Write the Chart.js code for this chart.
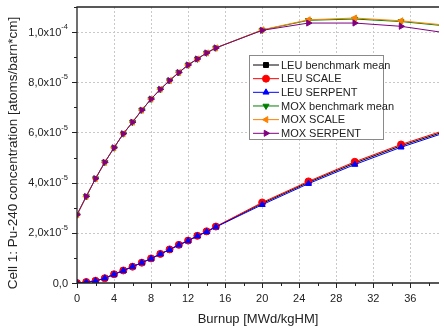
<!DOCTYPE html>
<html>
<head>
<meta charset="utf-8">
<script src="https://cdn.jsdelivr.net/npm/chart.js@4"></script>
<style>
  html, body { margin: 0; padding: 0; background: #fff; }
  #wrap { width: 444px; height: 333px; }
</style>
</head>
<body>
<div id="wrap"><canvas id="puChart" width="444" height="333"></canvas></div>
<script>
// burnup steps [MWd/kgHM]
const burnup = [0, 1, 2, 3, 4, 5, 6, 7, 8, 9, 10, 11, 12, 13, 14, 15, 20, 25, 30, 35, 40];

// Pu-240 concentration, units of 1e-5 atoms/barn*cm
const leuBench   = [0, 0.03, 0.08, 0.19, 0.35, 0.50, 0.65, 0.81, 0.97, 1.16, 1.33, 1.52, 1.69, 1.88, 2.05, 2.24, 3.17, 4.01, 4.78, 5.47, 6.07];
const leuScale   = [0, 0.04, 0.09, 0.19, 0.35, 0.50, 0.65, 0.81, 0.98, 1.16, 1.34, 1.52, 1.69, 1.88, 2.06, 2.25, 3.21, 4.05, 4.83, 5.52, 6.12];
const leuSerpent = [0, 0.03, 0.08, 0.19, 0.34, 0.49, 0.65, 0.81, 0.97, 1.15, 1.33, 1.51, 1.68, 1.87, 2.04, 2.23, 3.12, 3.96, 4.72, 5.41, 6.02];
const moxBench   = [2.72, 3.45, 4.16, 4.81, 5.39, 5.95, 6.41, 6.89, 7.33, 7.72, 8.07, 8.39, 8.69, 8.93, 9.17, 9.37, 10.08, 10.47, 10.52, 10.42, 10.24];
const moxScale   = [2.72, 3.45, 4.16, 4.81, 5.39, 5.95, 6.41, 6.89, 7.33, 7.72, 8.07, 8.39, 8.69, 8.93, 9.17, 9.37, 10.09, 10.49, 10.56, 10.45, 10.27];
const moxSerpent = [2.72, 3.45, 4.16, 4.81, 5.39, 5.95, 6.41, 6.89, 7.33, 7.72, 8.07, 8.39, 8.69, 8.93, 9.17, 9.37, 10.07, 10.36, 10.36, 10.23, 9.96];

// y tick labels: mantissa part and superscript exponent
const yTickBase = ['0,0', '2,0x10', '4,0x10', '6,0x10', '8,0x10', '1,0x10'];
const yTickExp  = ['', '-5', '-5', '-5', '-5', '-4'];
const yTitle = 'Cell 1: Pu-240 concentration [atoms/barn*cm]';

const FONT = "'Liberation Sans', Arial, sans-serif";

function pts(arr) {
    return burnup.map((b, i) => ({ x: b, y: arr[i] * 1e-5 }));
}

function series(label, arr, color, style, rot, order) {
    return {
        label: label,
        data: pts(arr),
        borderColor: color,
        backgroundColor: color,
        pointBackgroundColor: color,
        pointBorderColor: color,
        borderWidth: 1,
        pointRadius: 3.5,
        pointStyle: style,
        rotation: rot,
        order: order
    };
}

// grid, axis lines, frame, tick marks, y labels and y title
const axesPlugin = {
    id: 'axesDeco',
    beforeDatasetsDraw(chart) {
        const ctx = chart.ctx;
        const a = chart.chartArea;
        const xs = chart.scales.x, ys = chart.scales.y;
        ctx.save();
        ctx.strokeStyle = '#c9c9c9';
        ctx.lineWidth = 1;
        ctx.setLineDash([2, 2]);
        for (let v = 4; v < xs.max; v += 4) {
            const px = Math.round(xs.getPixelForValue(v)) + 0.5;
            ctx.beginPath(); ctx.moveTo(px, a.top); ctx.lineTo(px, a.bottom); ctx.stroke();
        }
        for (let k = 1; k <= 5; k++) {
            const py = Math.round(ys.getPixelForValue(k * 2e-5)) + 0.5;
            ctx.beginPath(); ctx.moveTo(a.left, py); ctx.lineTo(a.right, py); ctx.stroke();
        }
        ctx.restore();
    },
    afterDraw(chart) {
        const ctx = chart.ctx;
        const a = chart.chartArea;
        const xs = chart.scales.x, ys = chart.scales.y;
        ctx.save();
        ctx.strokeStyle = '#222';
        ctx.lineWidth = 1.3;
        ctx.beginPath();
        ctx.moveTo(a.right, a.top); ctx.lineTo(a.left, a.top);
        ctx.lineTo(a.left, a.bottom); ctx.lineTo(a.right, a.bottom);
        ctx.stroke();
        ctx.lineWidth = 1;
        for (let v = 0; v <= xs.max; v += 2) {
            const px = Math.round(xs.getPixelForValue(v)) + 0.5;
            const len = v % 4 === 0 ? 5 : 3;
            ctx.beginPath(); ctx.moveTo(px, a.bottom); ctx.lineTo(px, a.bottom + len); ctx.stroke();
        }
        for (let k = 0; k <= 11; k++) {
            const py = Math.round(ys.getPixelForValue(k * 1e-5)) + 0.5;
            const len = k % 2 === 0 ? 5 : 3;
            ctx.beginPath(); ctx.moveTo(a.left, py); ctx.lineTo(a.left - len, py); ctx.stroke();
        }
        // y tick labels with small raised exponent
        ctx.fillStyle = '#222';
        ctx.textAlign = 'right';
        ctx.textBaseline = 'middle';
        const right = a.left - 9;
        yTickBase.forEach((base, k) => {
            const py = ys.getPixelForValue(k * 2e-5);
            ctx.font = '7.5px ' + FONT;
            const ew = yTickExp[k] ? ctx.measureText(yTickExp[k]).width : 0;
            if (ew) ctx.fillText(yTickExp[k], right, py - 5);
            ctx.font = '11px ' + FONT;
            ctx.fillText(base, right - ew, py + 0.5);
        });
        // y axis title
        ctx.translate(13, 153);
        ctx.rotate(-Math.PI / 2);
        ctx.font = '13.5px ' + FONT;
        ctx.textAlign = 'center';
        ctx.fillText(yTitle, 0, 0);
        ctx.restore();
    }
};

// legend box drawn inside the plot
const boxLegend = {
    id: 'boxLegend',
    afterDraw(chart) {
        const ctx = chart.ctx;
        const x0 = 249, y0 = 55, w = 134, h = 84;
        ctx.save();
        ctx.fillStyle = '#fff';
        ctx.fillRect(x0, y0, w, h);
        ctx.strokeStyle = '#8a8a8a';
        ctx.lineWidth = 1;
        ctx.strokeRect(x0 + 0.5, y0 + 0.5, w, h);
        ctx.font = '11px ' + FONT;
        ctx.textBaseline = 'middle';
        chart.data.datasets.forEach((ds, i) => {
            const cy = y0 + 10 + i * 13.66;
            ctx.strokeStyle = ds.borderColor;
            ctx.beginPath(); ctx.moveTo(x0 + 4, cy); ctx.lineTo(x0 + 30, cy); ctx.stroke();
            ctx.fillStyle = ds.pointBackgroundColor;
            ctx.strokeStyle = ds.pointBorderColor;
            Chart.helpers.drawPoint(ctx, {
                pointStyle: ds.pointStyle, rotation: ds.rotation, radius: 3.5, borderWidth: 1
            }, x0 + 17, cy);
            ctx.fillStyle = '#222';
            ctx.fillText(ds.label, x0 + 32, cy + 0.5);
        });
        ctx.restore();
    }
};

const ctx = document.getElementById('puChart').getContext('2d');
const chart = new Chart(ctx, {
    type: 'line',
    data: {
        datasets: [
            series('LEU benchmark mean', leuBench, '#000000', 'rect', 0, 6),
            series('LEU SCALE', leuScale, '#ff0000', 'circle', 0, 5),
            series('LEU SERPENT', leuSerpent, '#0000ff', 'triangle', 0, 4),
            series('MOX benchmark mean', moxBench, '#008000', 'triangle', 180, 3),
            series('MOX SCALE', moxScale, '#ff8000', 'triangle', 270, 2),
            series('MOX SERPENT', moxSerpent, '#800080', 'triangle', 90, 1)
        ]
    },
    options: {
        responsive: false,
        animation: false,
        layout: { padding: { top: 7, right: 0, bottom: 0, left: 0 } },
        plugins: {
            legend: { display: false },
            tooltip: { enabled: false }
        },
        scales: {
            x: {
                type: 'linear',
                min: 0,
                max: 39.1,
                grid: { display: false },
                border: { display: false },
                ticks: {
                    stepSize: 4,
                    includeBounds: false,
                    padding: 1,
                    color: '#222',
                    font: { family: FONT, size: 11 }
                },
                title: {
                    display: true,
                    text: 'Burnup [MWd/kgHM]',
                    color: '#222',
                    font: { family: FONT, size: 13 },
                    padding: { top: 4, bottom: 6 }
                },
                afterFit(scale) { scale.height = 50; scale.paddingLeft = 0; scale.paddingRight = 0; }
            },
            y: {
                min: 0,
                max: 1.1e-4,
                grid: { display: false },
                border: { display: false },
                ticks: {
                    display: false,
                    stepSize: 2e-5,
                    includeBounds: false
                },
                afterFit(scale) { scale.width = 77; scale.paddingTop = 0; scale.paddingBottom = 0; }
            }
        }
    },
    plugins: [axesPlugin, boxLegend]
});
</script>
</body>
</html>
